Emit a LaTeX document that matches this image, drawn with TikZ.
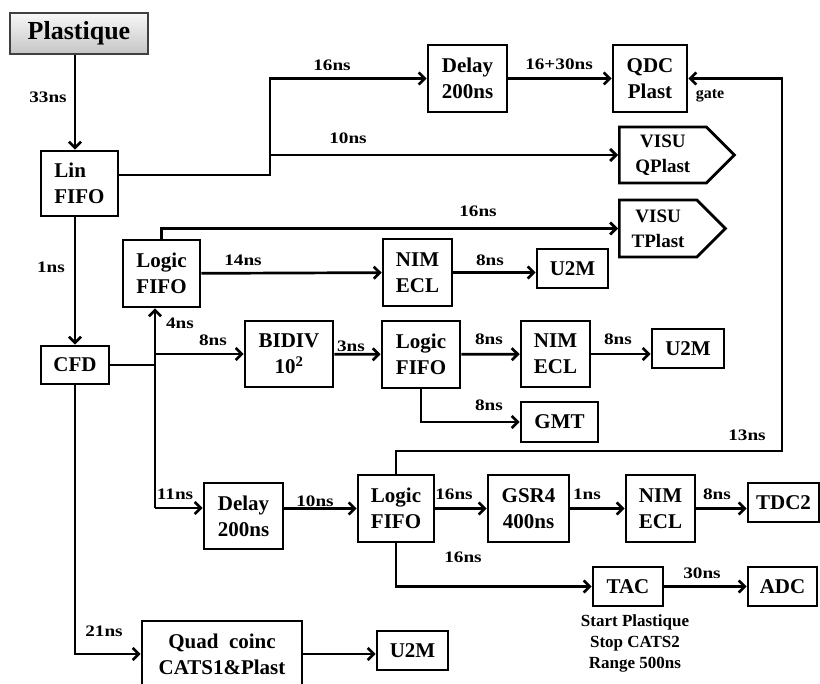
\documentclass[tikz,border=0pt]{standalone}
\usepackage{fontspec}
\setmainfont{Liberation Serif}
\newfontfamily\widefont{Liberation Serif}[FakeStretch=1.2]
\usetikzlibrary{arrows.meta,positioning,shapes.symbols}

\begin{document}
\begin{tikzpicture}[x=1pt, y=-1pt, line width=2.7pt,
    box/.style={draw, inner sep=0pt, align=center, font=\fontsize{21}{26}\selectfont\bfseries},
    visu/.style={box, signal, signal to=east, signal pointer angle=90, anchor=west, font=\fontsize{19}{25}\selectfont\bfseries},
    lbl/.style={font=\widefont\fontsize{16}{20}\selectfont\bfseries},
    wire/.style={-{Straight Barb[length=6pt,width=12pt]}}]
          \useasboundingbox (0,0) rectangle (820,684);
          % modules
          \node[box, minimum width=138pt, minimum height=41pt, top color=gray!6, bottom color=gray!45, draw=black!75, font=\fontsize{26}{30}\selectfont\bfseries] (plast) at (79,33.5) {Plastique};
          \node[box, align=left, minimum width=77pt, minimum height=65pt] (linfifo) at (79.5,183.5) {Lin\\FIFO};
          \node[box, minimum width=68pt, minimum height=38pt] (cfd) at (75,365) {CFD};
          \node[box, minimum width=79pt, minimum height=67pt] (delay1) at (467.5,78.5) {Delay\\200ns};
          \node[box, minimum width=74pt, minimum height=67pt] (qdc) at (650,78.5) {QDC\\Plast};
          \node[visu, minimum width=115pt, minimum height=56pt] (visuq) at (618,155) {VISU\\QPlast};
          \node[visu, minimum width=106pt, minimum height=57pt] (visut) at (618,228.5) {VISU\\TPlast};
          \node[box, minimum width=77pt, minimum height=67pt] (logic1) at (161.5,273.5) {Logic\\FIFO};
          \node[box, minimum width=69pt, minimum height=67pt] (nim1) at (417.5,272.5) {NIM\\ECL};
          \node[box, minimum width=71pt, minimum height=39pt] (u2m1) at (572.5,268.5) {U2M};
          \node[box, minimum width=88pt, minimum height=66pt] (bidiv) at (289,354) {BIDIV\\10\textsuperscript{2}};
          \node[box, minimum width=78pt, minimum height=67pt] (logic2) at (421,354.5) {Logic\\FIFO};
          \node[box, minimum width=69pt, minimum height=66pt] (nim2) at (555.5,354) {NIM\\ECL};
          \node[box, minimum width=72pt, minimum height=39pt] (u2m2) at (688,348.5) {U2M};
          \node[box, minimum width=77pt, minimum height=40pt] (gmt) at (559.5,422) {GMT};
          \node[box, minimum width=79pt, minimum height=66pt] (delay2) at (243.5,516) {Delay\\200ns};
          \node[box, minimum width=76pt, minimum height=67pt] (logic3) at (396,508.5) {Logic\\FIFO};
          \node[box, minimum width=81pt, minimum height=67pt] (gsr) at (528.5,508.5) {GSR4\\400ns};
          \node[box, minimum width=69pt, minimum height=67pt] (nim3) at (660.5,508.5) {NIM\\ECL};
          \node[box, minimum width=71pt, minimum height=39pt] (tdc) at (783.5,502.5) {TDC2};
          \node[box, minimum width=70pt, minimum height=39pt] (tac) at (628,586.5) {TAC};
          \node[box, minimum width=69pt, minimum height=39pt] (adc) at (782.5,586.5) {ADC};
          \node[box, minimum width=160pt, minimum height=66pt] (quad) at (222,654) {Quad~~coinc\\CATS1\&Plast};
          \node[box, minimum width=71pt, minimum height=39pt] (u2m3) at (412.5,650.5) {U2M};
          \node[align=center, font=\fontsize{17}{21}\selectfont\bfseries] (tacnote) at (635,643) {Start Plastique\\Stop CATS2\\Range 500ns};
          % branch points
          \coordinate (qsplit) at (270,175);
          \coordinate (trunk) at (155,508);
          \coordinate (gate) at (782,451);
          % cables
          \draw[wire] (plast.south -| cfd.north) -- (linfifo.north -| cfd.north);
          \draw[wire] (linfifo.south -| cfd.north) -- (cfd.north);
          \draw[wire] (linfifo.east |- qsplit) -- (qsplit) |- (delay1.west);
          \draw[wire] (qsplit |- visuq.west) -- (visuq.west);
          \draw[wire] (delay1) -- (qdc);
          \draw[wire] (logic1.north) |- (visut.west);
          \draw[wire] (logic1) -- (nim1);
          \draw[wire] (nim1.east) -- (nim1.east -| u2m1.west);
          \draw (cfd.east) -- (cfd.east -| trunk);
          \draw[wire] (trunk) -- (trunk |- logic1.south);
          \draw[wire] (trunk |- bidiv) -- (bidiv);
          \draw[wire] (trunk) -- (trunk -| delay2.west);
          \draw[wire] (bidiv) -- (logic2);
          \draw[wire] (logic2) -- (nim2);
          \draw[wire] (nim2.east) -- (nim2.east -| u2m2.west);
          \draw[wire] (logic2.south) |- (gmt.west);
          \draw[wire] (delay2.east |- logic3) -- (logic3.west);
          \draw[wire] (logic3) -- (gsr);
          \draw[wire] (gsr) -- (nim3);
          \draw[wire] (nim3.east) -- (nim3.east -| tdc.west);
          \draw[wire] (logic3.south) |- (tac.west);
          \draw[wire] (tac) -- (adc);
          \draw[wire] (logic3.north) |- (gate) |- (qdc.east);
          \draw[wire] (cfd.south) |- (quad.west);
          \draw[wire] (quad.east) -- (quad.east -| u2m3.west);
          % delays
          \node[lbl] (t33) at (48,97) {33ns};
          \node[lbl] (t16a) at (332,65) {16ns};
          \node[lbl] (t10a) at (348,138) {10ns};
          \node[lbl] (t46) at (559,64) {16+30ns};
          \node[lbl, font=\fontsize{16}{20}\selectfont\bfseries] (tgate) at (710,96) {gate};
          \node[lbl] (t16b) at (478,211) {16ns};
          \node[lbl] (t1a) at (51,267) {1ns};
          \node[lbl] (t14) at (243,260) {14ns};
          \node[lbl] (t8a) at (490,260) {8ns};
          \node[lbl] (t4) at (180,323) {4ns};
          \node[lbl] (t8b) at (213,340) {8ns};
          \node[lbl] (t3) at (351,346) {3ns};
          \node[lbl] (t8c) at (489,339) {8ns};
          \node[lbl] (t8d) at (618,339) {8ns};
          \node[lbl] (t8e) at (489,405) {8ns};
          \node[lbl] (t13) at (747,435) {13ns};
          \node[lbl] (t11) at (175,494) {11ns};
          \node[lbl] (t10b) at (315,501) {10ns};
          \node[lbl] (t16c) at (454,494) {16ns};
          \node[lbl] (t1b) at (587,494) {1ns};
          \node[lbl] (t8f) at (717,494) {8ns};
          \node[lbl] (t16d) at (463,557) {16ns};
          \node[lbl] (t30) at (702,573) {30ns};
          \node[lbl] (t21) at (104,631) {21ns};
        \end{tikzpicture}
\end{document}
